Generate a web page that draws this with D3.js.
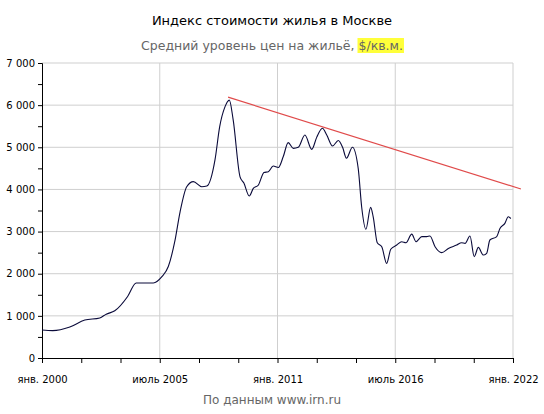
<!DOCTYPE html>
<html><head><meta charset="utf-8">
<script src="https://cdn.jsdelivr.net/npm/d3@7"></script>
<style>body{margin:0;background:#fff;font-family:"DejaVu Sans",Verdana,sans-serif}</style>
</head><body><svg id="c" width="544" height="414"></svg>
<script>
const years = [2000.0,2000.5,2001.3,2002.0,2002.7,2003.0,2003.4,2004.0,2004.4,2005.2,2005.6,2005.9,2006.2,2006.45,2006.76,2007.07,2007.46,2007.7,2008.08,2008.3,2008.55,2008.75,2008.93,2009.25,2009.43,2009.68,2009.87,2010.1,2010.37,2010.57,2010.8,2011.04,2011.27,2011.5,2011.74,2011.97,2012.28,2012.6,2012.83,2013.1,2013.3,2013.57,2013.84,2014.04,2014.22,2014.5,2014.77,2014.93,2015.13,2015.35,2015.47,2015.66,2015.87,2016.1,2016.29,2016.57,2016.8,2017.0,2017.27,2017.47,2017.74,2017.97,2018.12,2018.36,2018.67,2018.98,2019.37,2019.6,2019.76,2019.99,2020.19,2020.38,2020.61,2020.77,2020.92,2021.24,2021.39,2021.62,2021.78,2021.9];
const prices = [665,650,735,900,950,1040,1120,1460,1780,1780,1930,2170,2760,3470,4065,4185,4065,4080,4700,5490,5965,6120,5650,4300,4150,3845,4025,4100,4400,4420,4555,4520,4780,5110,4975,5000,5290,4950,5235,5450,5290,5030,5160,5000,4740,5000,4500,3590,3055,3575,3350,2735,2640,2245,2580,2680,2760,2735,2940,2760,2880,2880,2895,2640,2500,2600,2680,2735,2720,2895,2405,2625,2445,2485,2800,2880,3075,3195,3350,3310];
const trendYears = [2008.69, 2022.37];
const trendValues = [6190, 4010];
const xTickYears = [2000, 2005.5, 2011, 2016.5, 2022];
const xTickLabels = ["янв. 2000","июль 2005","янв. 2011","июль 2016","янв. 2022"];
const yTicks = [0,1000,2000,3000,4000,5000,6000,7000];

const svg = d3.select("#c");
const L=42,R=513,T=63,B=358;
const x = d3.scaleLinear().domain([2000,2022]).range([L,R]);
const y = d3.scaleLinear().domain([0,7000]).range([B,T]);
const fmt = v => d3.format(",")(v).replace(/,/g," ");

svg.append("g").selectAll("line").data(yTicks.slice(1)).join("line")
 .attr("x1",L).attr("x2",R).attr("y1",d=>y(d)).attr("y2",d=>y(d)).attr("stroke","#cfcfcf");
svg.append("g").selectAll("line").data(xTickYears.slice(1)).join("line")
 .attr("y1",T).attr("y2",B).attr("x1",d=>x(d)).attr("x2",d=>x(d)).attr("stroke","#cfcfcf");

const minorX = d3.range(0,13).map(i=>2000+i*22/12);
svg.append("g").attr("transform",`translate(0,${B})`)
 .call(d3.axisBottom(x).tickValues(minorX).tickSize(5).tickFormat(""));
svg.append("g").attr("transform",`translate(0,${B})`)
 .call(d3.axisBottom(x).tickValues(xTickYears).tickSize(0).tickPadding(18).tickFormat((d,i)=>xTickLabels[i]))
 .call(g=>g.select(".domain").remove())
 .selectAll("text").attr("font-size","10px").attr("font-family","DejaVu Sans").attr("fill","#000");
svg.append("g").attr("transform",`translate(${L},0)`)
 .call(d3.axisLeft(y).tickValues(d3.range(0,7001,500)).tickSize(4).tickFormat(d=>d%1000===0?fmt(d):""))
 .call(g=>g.selectAll("text").attr("font-size","10px").attr("font-family","DejaVu Sans").attr("fill","#000"));
svg.selectAll(".domain").attr("stroke","#000");

svg.append("path").datum(years.map((d,i)=>[d,prices[i]]))
 .attr("fill","none").attr("stroke","#0a0a3a").attr("stroke-width",1.1)
 .attr("d",d3.line().curve(d3.curveMonotoneX).x(d=>x(d[0])).y(d=>y(d[1])));
svg.append("path").datum(trendYears.map((d,i)=>[d,trendValues[i]]))
 .attr("fill","none").attr("stroke","#e04a4a").attr("stroke-width",1.2)
 .attr("d",d3.line().x(d=>x(d[0])).y(d=>y(d[1])));

svg.append("text").attr("x",272).attr("y",25).attr("text-anchor","middle").attr("font-size","13px").text("Индекс стоимости жилья в Москве");
const hlG = svg.append("g");
const sub = svg.append("text").attr("x",272).attr("y",50).attr("text-anchor","middle").attr("font-size","12.5px").attr("fill","#666");
sub.append("tspan").text("Средний уровень цен на жильё, ");
const hl = sub.append("tspan").text("$/кв.м.");
const sb = sub.node().getBBox();
const hlLen = hl.node().getComputedTextLength();
hlG.append("rect").attr("x",sb.x+sb.width-hlLen-1).attr("y",sb.y).attr("width",hlLen+2).attr("height",sb.height).attr("fill","#ffff3a");
svg.append("text").attr("x",272).attr("y",404).attr("text-anchor","middle").attr("font-size","12px").attr("fill","#666").text("По данным www.irn.ru");
</script></body></html>
